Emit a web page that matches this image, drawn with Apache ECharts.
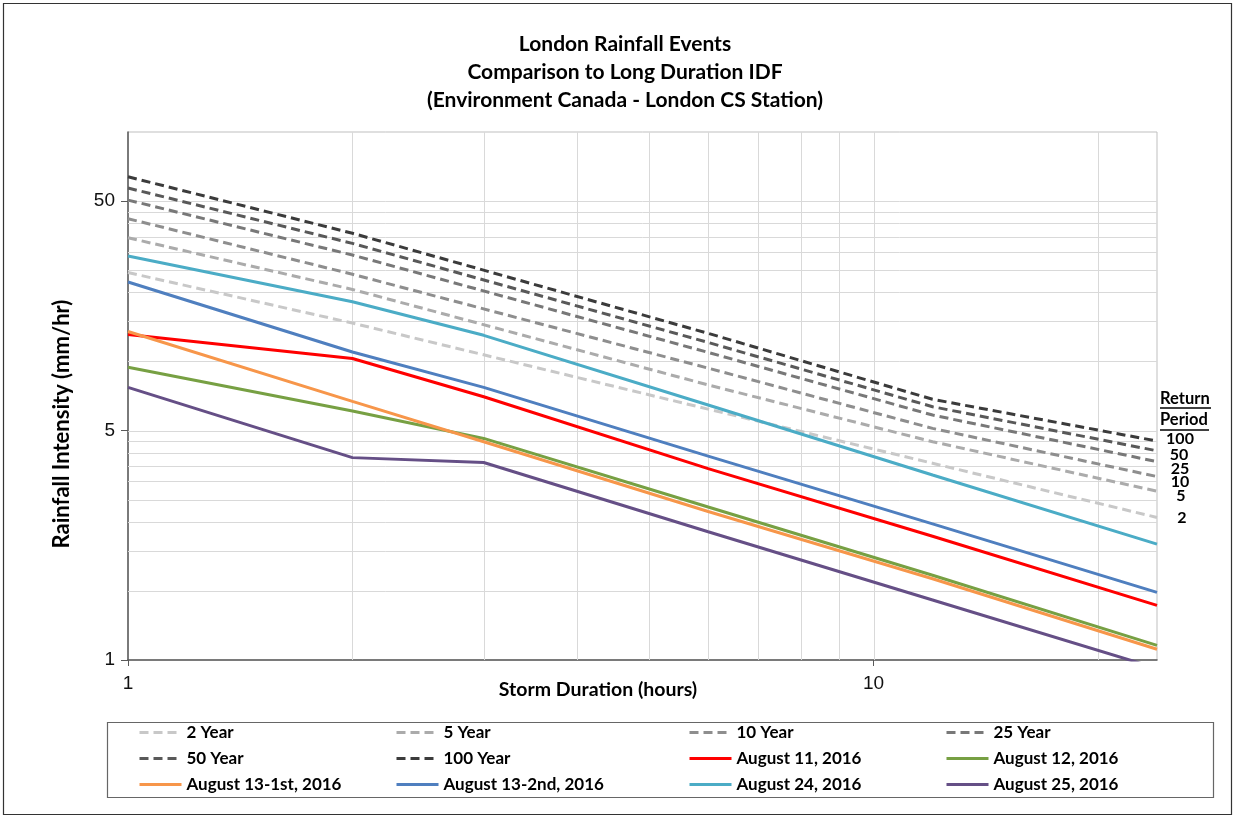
<!DOCTYPE html>
<html>
<head>
<meta charset="utf-8">
<script src="https://cdn.jsdelivr.net/npm/echarts@6/dist/echarts.min.js"></script>
<style>
html,body{margin:0;padding:0;background:#fff;}
#chart{width:1235px;height:817px;}
</style>
</head>
<body>
<div id="chart"></div>
<script>
// ---- data ----
const durIDF = [1, 2, 6, 12, 24];
const idf2 = [24.4, 14.7, 6.2, 3.60, 2.09];
const idf5 = [34.6, 20.6, 7.9, 4.47, 2.72];
const idf10 = [41.9, 24.0, 9.35, 5.11, 3.15];
const idf25 = [50.5, 29.1, 10.95, 5.84, 3.66];
const idf50 = [57.0, 32.7, 12.1, 6.35, 4.08];
const idf100 = [63.8, 36.2, 13.26, 6.84, 4.50];

const durEvent = [1, 2, 3, 6, 12, 24];
const aug11 = [13.1, 10.3, 7.02, 3.41, 1.73, 0.865];
const aug12 = [9.43, 6.08, 4.62, 2.32, 1.17, 0.579];
const aug13a = [13.5, 6.7, 4.47, 2.22, 1.13, 0.557];
const aug13b = [22.2, 11.0, 7.71, 3.87, 1.96, 0.986];
const aug24 = [28.8, 18.2, 13.0, 6.46, 3.20, 1.60];
const aug25 = [7.71, 3.81, 3.63, 1.81, 0.913, 0.46];

const xMin = 1, xMax = 24, yMin = 0.5, yMax = 100;
const xTickLabels = [1, 10];
const yTickLabels = [0.5, 5, 50];
const xGridValues = [2, 3, 4, 5, 6, 7, 8, 9, 10, 20];
const yGridValues = [1, 1.5, 2, 2.5, 3, 3.5, 4, 4.5, 5, 10, 15, 20, 25, 30, 35, 40, 45, 50];
const returnLabels = ['100', '50', '25', '10', '5', '2'];

// ---- helpers ----
const zip = (xs, ys) => xs.map((x, i) => [x, ys[i]]);
const FONT = 'Lato, "Open Sans", sans-serif';
const NUMFONT = '"Liberation Sans", Arial, sans-serif';

function idfSeries(name, ys, color) {
  return {
    name, type: 'line', data: zip(durIDF, ys), symbol: 'none', z: 3,
    lineStyle: { color, width: 3, type: [9, 5] }, itemStyle: { color },
    clip: true
  };
}
function evSeries(name, ys, color) {
  return {
    name, type: 'line', data: zip(durEvent, ys), symbol: 'none', z: 4,
    lineStyle: { color, width: 3 }, itemStyle: { color },
    clip: true
  };
}

const gridColor = '#d9d9d9';
const vGrid = {
  type: 'custom', silent: true, z: 1,
  data: xGridValues.map(v => [v, yMin]),
  renderItem(params, api) {
    const x = api.value(0);
    const p1 = api.coord([x, yMin]);
    const p2 = api.coord([x, yMax]);
    const px = Math.round(p1[0]) + 0.5;
    return { type: 'line', shape: { x1: px, y1: p1[1], x2: px, y2: p2[1] }, style: { stroke: gridColor, lineWidth: 1 } };
  }
};
const hGrid = {
  type: 'custom', silent: true, z: 1,
  data: yGridValues.map(v => [xMin, v]),
  renderItem(params, api) {
    const y = api.value(1);
    const p1 = api.coord([xMin, y]);
    const p2 = api.coord([xMax, y]);
    const py = Math.round(p1[1]) + 0.5;
    return { type: 'line', shape: { x1: p1[0], y1: py, x2: p2[0], y2: py }, style: { stroke: gridColor, lineWidth: 1 } };
  }
};

const legendText = { fontFamily: FONT, fontWeight: 'bold', fontSize: 17, color: '#000' };
function legendCol(left, names) {
  return {
    orient: 'vertical', left, top: 724, itemWidth: 42, itemHeight: 14, itemGap: 9,
    data: names, textStyle: legendText, selectedMode: false, padding: 0,
    itemStyle: { opacity: 0 }, lineStyle: { width: 3 }
  };
}

const chart = echarts.init(document.getElementById('chart'));
const option = {
  animation: false,
  backgroundColor: '#fff',
  title: {
    text: 'London Rainfall Events\nComparison to Long Duration IDF\n(Environment Canada - London CS Station)',
    left: 620, top: 25, textAlign: 'center',
    textStyle: { fontFamily: FONT, fontWeight: 'bold', fontSize: 21, lineHeight: 28, color: '#000' }
  },
  grid: { left: 128, right: 78, top: 132, bottom: 157, show: true, borderColor: '#bfbfbf', borderWidth: 1, containLabel: false, outerBoundsMode: 'none' },
  xAxis: {
    type: 'log', logBase: 10, min: xMin, max: xMax,
    axisLine: { show: true, lineStyle: { color: '#595959', width: 1.5 } },
    axisTick: { show: true, customValues: xTickLabels, length: 6, inside: false, lineStyle: { color: '#595959' } },
    axisLabel: { show: true, customValues: xTickLabels, margin: 14, fontFamily: NUMFONT, fontSize: 19, color: '#111' },
    splitLine: { show: false }, minorSplitLine: { show: false }
  },
  yAxis: {
    type: 'log', logBase: 10, min: yMin, max: yMax,
    axisLine: { show: true, lineStyle: { color: '#595959', width: 1.5 } },
    axisTick: { show: true, customValues: yTickLabels, length: 7, inside: false, lineStyle: { color: '#595959' } },
    axisLabel: { show: true, customValues: yTickLabels, margin: 13, fontFamily: NUMFONT, fontSize: 19, color: '#111',
      formatter: v => String(Math.round(v)) },
    splitLine: { show: false }, minorSplitLine: { show: false }
  },
  legend: [
    legendCol(138, ['2 Year', '50 Year', 'August 13-1st, 2016']),
    legendCol(395, ['5 Year', '100 Year', 'August 13-2nd, 2016']),
    legendCol(688, ['10 Year', 'August 11, 2016', 'August 24, 2016']),
    legendCol(945, ['25 Year', 'August 12, 2016', 'August 25, 2016'])
  ],
  graphic: [
    { type: 'rect', shape: { x: 3.5, y: 3.5, width: 1228, height: 811 }, style: { fill: 'none', stroke: '#333', lineWidth: 1.2 }, silent: true },
    { type: 'rect', shape: { x: 107.5, y: 722.5, width: 1106, height: 75 }, style: { fill: 'none', stroke: '#666', lineWidth: 1.2 }, silent: true },
    { type: 'text', x: 62, y: 424, rotation: Math.PI / 2, style: { text: 'Rainfall Intensity (mm/hr)', fontFamily: FONT, fontWeight: 'bold', fontSize: 22, fill: '#000', textAlign: 'center', textVerticalAlign: 'middle' } },
    { type: 'text', x: 598, y: 690, style: { text: 'Storm Duration (hours)', fontFamily: FONT, fontWeight: 'bold', fontSize: 19.5, fill: '#000', textAlign: 'center', textVerticalAlign: 'middle' } },
    { type: 'text', x: 1160, y: 399, style: { text: 'Return', fontFamily: FONT, fontWeight: 'bold', fontSize: 16.5, fill: '#000', textAlign: 'left', textVerticalAlign: 'middle' } },
    { type: 'line', shape: { x1: 1160, y1: 408, x2: 1211, y2: 408 }, style: { stroke: '#000', lineWidth: 1.3 } },
    { type: 'text', x: 1160, y: 420, style: { text: 'Period', fontFamily: FONT, fontWeight: 'bold', fontSize: 16.5, fill: '#000', textAlign: 'left', textVerticalAlign: 'middle' } },
    { type: 'line', shape: { x1: 1160, y1: 430, x2: 1209, y2: 430 }, style: { stroke: '#000', lineWidth: 1.3 } },
    ...[[439, 1180], [455, 1179], [469, 1180], [482, 1180], [496, 1181], [518, 1182]].map((p, i) => ({
      type: 'text', x: p[1], y: p[0], style: { text: returnLabels[i], fontFamily: FONT, fontWeight: 'bold', fontSize: 16, fill: '#000', textAlign: 'center', textVerticalAlign: 'middle' }
    }))
  ],
  series: [
    vGrid, hGrid,
    idfSeries('2 Year', idf2, '#c8c8c8'),
    idfSeries('5 Year', idf5, '#ababab'),
    idfSeries('10 Year', idf10, '#8e8e8e'),
    idfSeries('25 Year', idf25, '#787878'),
    idfSeries('50 Year', idf50, '#595959'),
    idfSeries('100 Year', idf100, '#3b3b3b'),
    evSeries('August 11, 2016', aug11, '#ff0000'),
    evSeries('August 12, 2016', aug12, '#77a043'),
    evSeries('August 13-1st, 2016', aug13a, '#f7964a'),
    evSeries('August 13-2nd, 2016', aug13b, '#4f7fbf'),
    evSeries('August 24, 2016', aug24, '#4bacc6'),
    evSeries('August 25, 2016', aug25, '#654f86')
  ]
};
chart.setOption(option);
</script>
</body>
</html>
